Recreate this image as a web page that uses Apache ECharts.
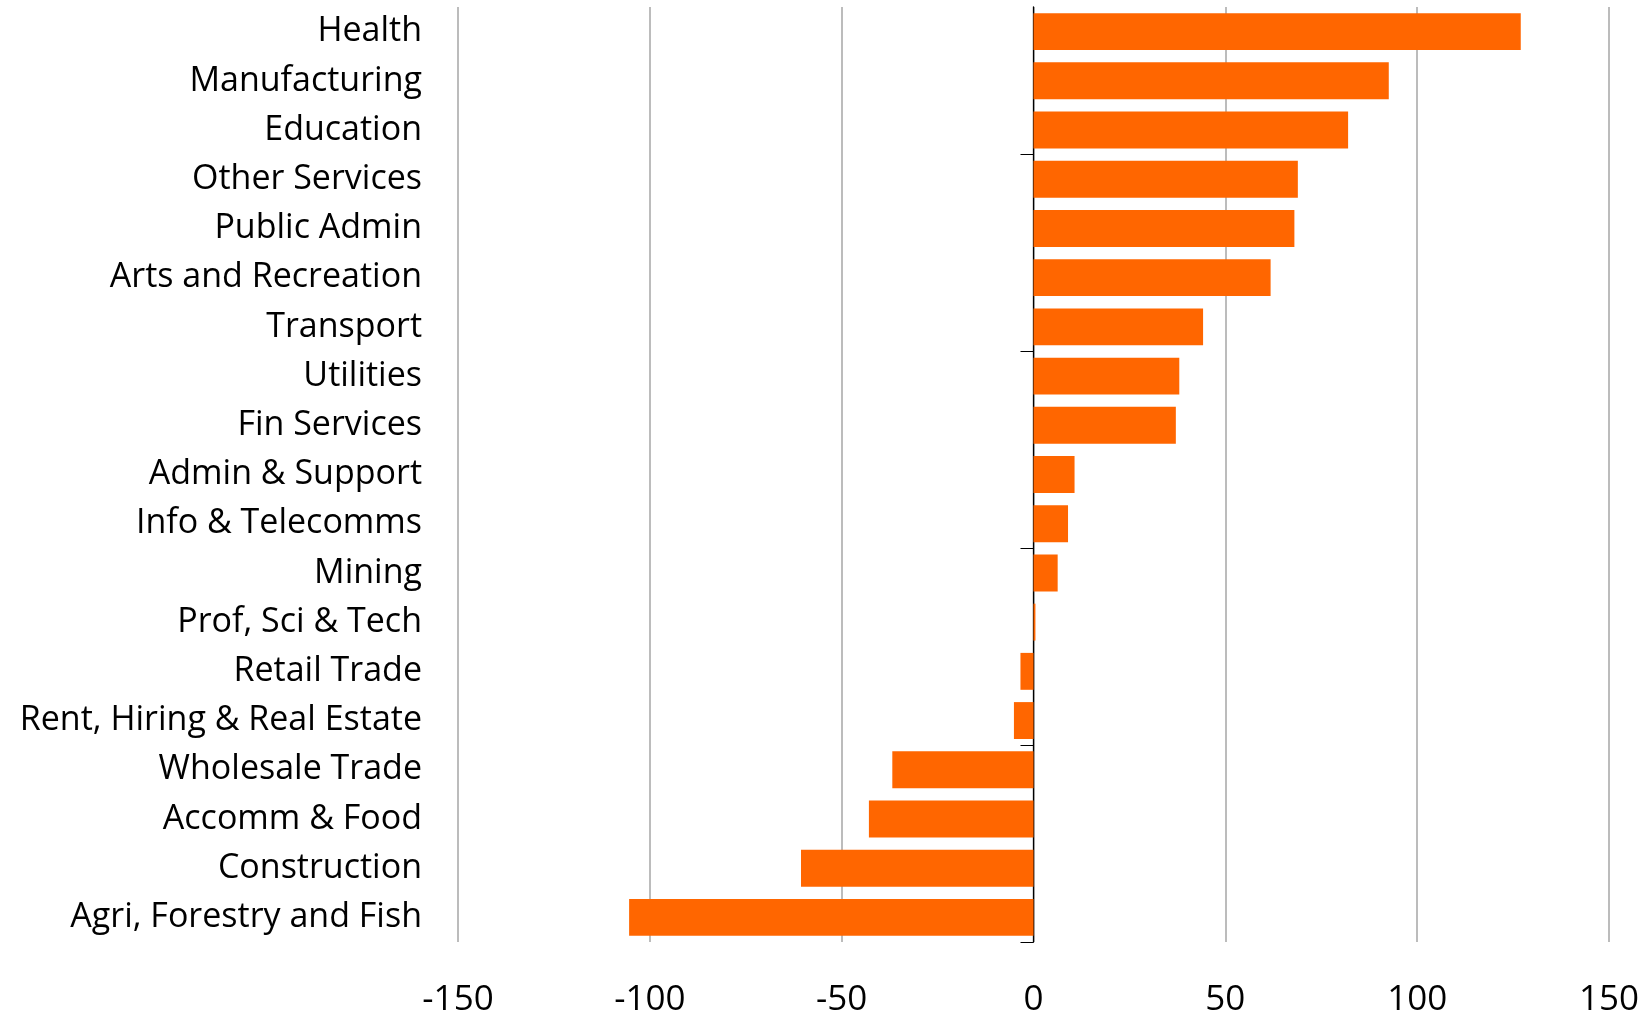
<!DOCTYPE html>
<html>
<head>
<meta charset="utf-8">
<title>Employment change by industry</title>
<script src="https://cdn.jsdelivr.net/npm/echarts@6/dist/echarts.min.js"></script>
<style>
  html, body { margin: 0; padding: 0; background: #ffffff; }
  #chart { width: 1649px; height: 1018px; }
</style>
</head>
<body>
<div id="chart"></div>
<script>
// Industries, listed bottom to top (category axis runs upward)
const industries = [
  'Agri, Forestry and Fish',
  'Construction',
  'Accomm & Food',
  'Wholesale Trade',
  'Rent, Hiring & Real Estate',
  'Retail Trade',
  'Prof, Sci & Tech',
  'Mining',
  'Info & Telecomms',
  'Admin & Support',
  'Fin Services',
  'Utilities',
  'Transport',
  'Arts and Recreation',
  'Public Admin',
  'Other Services',
  'Education',
  'Manufacturing',
  'Health'
];

// Change for each industry, same order as above
const changes = [
  -105.4, -60.6, -42.9, -36.8, -5.1, -3.4, 0.5, 6.3, 9.0, 10.7,
  37.1, 38.0, 44.2, 61.8, 68.0, 68.9, 82.0, 92.6, 127.0
];

// Value axis range and step
const xMin = -150;
const xMax = 150;
const xStep = 50;

// Category boundaries that carry a tick mark on the zero line
const tickBoundaries = [0, 4, 8, 12, 16];

const FONT = '"Open Sans", "Noto Sans", sans-serif';

const chart = echarts.init(document.getElementById('chart'), null, { renderer: 'canvas' });

chart.setOption({
  animation: false,
  backgroundColor: '#ffffff',
  grid: {
    left: 458,
    right: 40,
    top: 7,
    bottom: 73,
    containLabel: false
  },
  xAxis: {
    type: 'value',
    min: xMin,
    max: xMax,
    interval: xStep,
    axisLine: { show: false },
    axisTick: { show: false },
    splitLine: {
      show: true,
      lineStyle: { color: '#a6a6a6', width: 1.5 }
    },
    axisLabel: {
      color: '#000000',
      fontFamily: FONT,
      fontSize: 35,
      margin: 41
    }
  },
  yAxis: [
    {
      // Industry names on the left
      type: 'category',
      data: industries,
      position: 'left',
      axisLine: { show: false, onZero: false },
      axisTick: { show: false },
      splitLine: { show: false },
      axisLabel: {
        interval: 0,
        color: '#000000',
        fontFamily: FONT,
        fontSize: 34,
        margin: 36,
        padding: [16, 0, 0, 0]
      }
    },
    {
      // Zero line with a tick every four industries
      type: 'value',
      min: 0,
      max: industries.length,
      position: 'left',
      axisLine: {
        show: true,
        onZero: true,
        lineStyle: { color: '#000000', width: 1.3 }
      },
      axisTick: {
        show: true,
        length: 13,
        customValues: tickBoundaries,
        lineStyle: { color: '#000000', width: 1 }
      },
      axisLabel: { show: false },
      splitLine: { show: false }
    }
  ],
  series: [
    {
      type: 'bar',
      yAxisIndex: 0,
      data: changes,
      barCategoryGap: '25%',
      itemStyle: { color: '#ff6600' },
      z: 1
    }
  ]
});
</script>
</body>
</html>
